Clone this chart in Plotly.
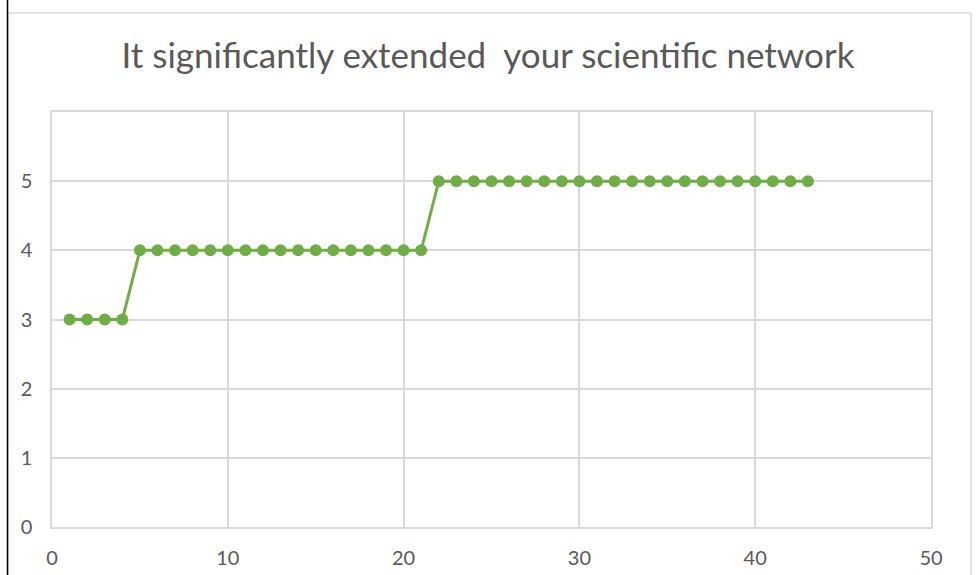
import plotly.graph_objects as go

# Survey responses for each participant
respondents = list(range(1, 44))
scores = [3] * 4 + [4] * 17 + [5] * 22

x_ticks = [0, 10, 20, 30, 40, 50]
y_ticks = [0, 1, 2, 3, 4, 5]

GREEN = "#70AD47"
TEXT = "#595959"
GRID = "#D9D9D9"

W, H = 976, 575
L, R, T, B = 52, 45, 112, 48
pw, ph = W - L - R, H - T - B


def px_x(p):
    return (p - L) / pw


def px_y(p):
    return (H - B - p) / ph


fig = go.Figure(
    go.Scatter(
        x=respondents,
        y=scores,
        mode="lines+markers",
        line=dict(color=GREEN, width=3),
        marker=dict(color=GREEN, size=12),
        hoverinfo="x+y",
    )
)

fig.update_layout(
    width=W,
    height=H,
    margin=dict(l=L, r=R, t=T, b=B, autoexpand=False),
    paper_bgcolor="white",
    plot_bgcolor="white",
    showlegend=False,
    font=dict(family="Lato, 'Open Sans', sans-serif", color=TEXT),
    title=dict(
        text="It significantly extended  your scientific network",
        x=0.5,
        xanchor="center",
        y=1 - 56 / H,
        yanchor="middle",
        font=dict(size=35, color=TEXT),
    ),
    xaxis=dict(
        range=[0, 50],
        tickvals=x_ticks,
        automargin=False,
        showgrid=True,
        gridcolor=GRID,
        gridwidth=1.5,
        showline=True,
        linecolor=GRID,
        linewidth=1.5,
        mirror=True,
        zeroline=False,
        ticks="",
        tickfont=dict(size=20, color=TEXT),
        ticklabelstandoff=12,
    ),
    yaxis=dict(
        range=[0, 6],
        tickvals=y_ticks,
        automargin=False,
        showgrid=True,
        gridcolor=GRID,
        gridwidth=1.5,
        showline=True,
        linecolor=GRID,
        linewidth=1.5,
        mirror=True,
        zeroline=False,
        ticks="",
        tickfont=dict(size=20, color=TEXT),
        ticklabelstandoff=14,
    ),
    shapes=[
        # outer chart frame
        dict(
            type="rect",
            xref="paper",
            yref="paper",
            x0=px_x(8),
            x1=px_x(971),
            y0=px_y(H + 20),
            y1=px_y(13),
            line=dict(color=GRID, width=1.5),
            fillcolor="rgba(0,0,0,0)",
            layer="below",
        ),
        # dark edge along the left side
        dict(
            type="line",
            xref="paper",
            yref="paper",
            x0=px_x(7.5),
            x1=px_x(7.5),
            y0=px_y(H + 20),
            y1=px_y(-20),
            line=dict(color="black", width=1.5),
        ),
    ],
)

fig.write_html("out.html")
